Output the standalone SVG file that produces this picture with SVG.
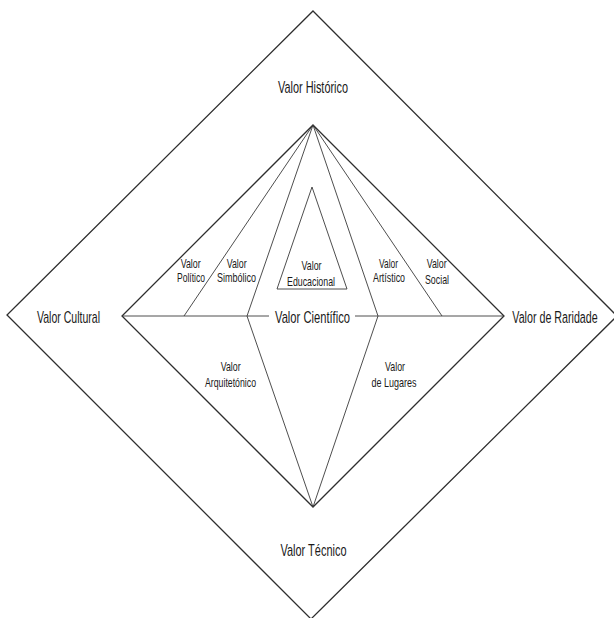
<svg xmlns="http://www.w3.org/2000/svg" width="614" height="618" viewBox="0 0 614 618">
<style>
.bg{fill:#ffffff}
.edge{fill:none;stroke:#2e2e2e;stroke-width:1.3;stroke-linejoin:miter}
.spoke{fill:none;stroke:#3a3a3a;stroke-width:0.9}
.big{font-family:"Liberation Sans",Arial,sans-serif;font-size:17px;fill:#1a1a1a;text-anchor:middle}
.small{font-family:"Liberation Sans",Arial,sans-serif;font-size:13px;fill:#1a1a1a;text-anchor:middle}
</style>
<rect class="bg" x="0" y="0" width="614" height="618"/>
<g id="outer-diamond">
<polygon class="edge" points="313,11 617,316 311,619 7,315"/>
</g>
<g id="inner-diamond">
<polygon class="edge" points="313,125 504,316 313,507 122,316"/>
</g>
<g id="connectors">
<line class="spoke" x1="313" y1="125" x2="184" y2="316"/>
<polyline class="spoke" points="313,125 247,316 313,507"/>
<polyline class="spoke" points="313,125 378,316 313,507"/>
<line class="spoke" x1="313" y1="125" x2="442" y2="316"/>
<line class="spoke" x1="122" y1="316" x2="269" y2="316"/>
<line class="spoke" x1="355" y1="316" x2="504" y2="316"/>
</g>
<g id="educacional-triangle">
<polygon class="spoke" points="312,187 347,289 277,289"/>
<text class="small" x="311.5" y="270" textLength="20" lengthAdjust="spacingAndGlyphs">Valor</text>
<text class="small" x="311" y="286" textLength="48" lengthAdjust="spacingAndGlyphs">Educacional</text>
</g>
<g id="historico"><text class="big" x="313" y="93" textLength="70" lengthAdjust="spacingAndGlyphs">Valor Histórico</text></g>
<g id="tecnico"><text class="big" x="313.5" y="556" textLength="66" lengthAdjust="spacingAndGlyphs">Valor Técnico</text></g>
<g id="cultural"><text class="big" x="68.5" y="323" textLength="63" lengthAdjust="spacingAndGlyphs">Valor Cultural</text></g>
<g id="raridade"><text class="big" transform="translate(555,323) scale(0.63,1)" x="0" y="0">Valor de Raridade</text></g>
<g id="cientifico"><text class="big" x="312.5" y="323" textLength="75" lengthAdjust="spacingAndGlyphs">Valor Científico</text></g>
<g id="politico">
<text class="small" x="190.7" y="268" textLength="20" lengthAdjust="spacingAndGlyphs">Valor</text>
<text class="small" x="191" y="282" textLength="28" lengthAdjust="spacingAndGlyphs">Político</text>
</g>
<g id="simbolico">
<text class="small" x="236.7" y="268" textLength="20" lengthAdjust="spacingAndGlyphs">Valor</text>
<text class="small" x="236.5" y="282" textLength="39" lengthAdjust="spacingAndGlyphs">Simbólico</text>
</g>
<g id="artistico">
<text class="small" x="388.5" y="268" textLength="19" lengthAdjust="spacingAndGlyphs">Valor</text>
<text class="small" x="389" y="282" textLength="32" lengthAdjust="spacingAndGlyphs">Artístico</text>
</g>
<g id="social">
<text class="small" x="436.7" y="268" textLength="20" lengthAdjust="spacingAndGlyphs">Valor</text>
<text class="small" x="437" y="284" textLength="24" lengthAdjust="spacingAndGlyphs">Social</text>
</g>
<g id="arquitetonico">
<text class="small" x="230.7" y="371" textLength="20" lengthAdjust="spacingAndGlyphs">Valor</text>
<text class="small" x="230.5" y="387" textLength="51" lengthAdjust="spacingAndGlyphs">Arquitetónico</text>
</g>
<g id="lugares">
<text class="small" x="395" y="371" textLength="20" lengthAdjust="spacingAndGlyphs">Valor</text>
<text class="small" x="394" y="387" textLength="45" lengthAdjust="spacingAndGlyphs">de Lugares</text>
</g>
</svg>
